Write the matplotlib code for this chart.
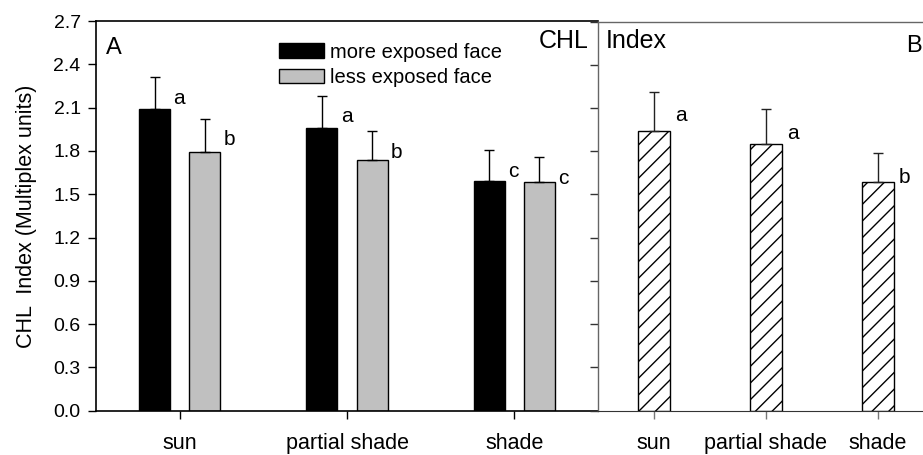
import matplotlib

matplotlib.use("Agg")
import matplotlib.pyplot as plt
import numpy as np

plt.rcParams["font.family"] = ["Liberation Sans", "DejaVu Sans"]
plt.rcParams["hatch.linewidth"] = 1.0

# panel A: two faces per light condition
conditions = ["sun", "partial shade", "shade"]
more_exposed = [2.09, 1.96, 1.59]
more_exposed_err = [0.22, 0.22, 0.215]
less_exposed = [1.79, 1.74, 1.585]
less_exposed_err = [0.23, 0.195, 0.17]
more_letters = ["a", "a", "c"]
less_letters = ["b", "b", "c"]

# panel B: whole fruit
whole = [1.94, 1.85, 1.585]
whole_err = [0.27, 0.24, 0.20]
whole_letters = ["a", "a", "b"]

yticks = [0.0, 0.3, 0.6, 0.9, 1.2, 1.5, 1.8, 2.1, 2.4, 2.7]

W, H = 923, 455
fig = plt.figure(figsize=(W / 100, H / 100), dpi=100)
ax = fig.add_axes([96 / W, 1 - 410.7 / H, 502 / W, 389.7 / H])
bx = fig.add_axes([598 / W, 1 - 410.7 / H, 336 / W, 389.2 / H])

x = np.arange(len(conditions))
bw, off = 0.185, 0.15
err_kw = dict(ecolor="black", elinewidth=1.0, capsize=3.6, capthick=1.0)
ax.bar(x - off, more_exposed, bw, color="black", edgecolor="black",
       linewidth=1.0, label="more exposed face")
ax.errorbar(x - off, more_exposed, yerr=[np.zeros(3), more_exposed_err],
            fmt="none", **err_kw)
ax.bar(x + off, less_exposed, bw, color="#c0c0c0", edgecolor="black",
       linewidth=1.0, label="less exposed face")
ax.errorbar(x + off, less_exposed, yerr=[np.zeros(3), less_exposed_err],
            fmt="none", **err_kw)

for xs, vals, errs, letters in ((x - off, more_exposed, more_exposed_err, more_letters),
                                (x + off, less_exposed, less_exposed_err, less_letters)):
    for xi, v, e, t in zip(xs, vals, errs, letters):
        ax.annotate(t, xy=(xi + bw / 2, v + e), xytext=(2.5, -15),
                    textcoords="offset points", ha="left", va="center",
                    fontsize=15)

ax.set_xlim(-0.5, 2.5)
ax.set_ylim(0, 2.7)
ax.set_yticks(yticks)
ax.set_yticklabels([f"{t:.1f}" for t in yticks], fontsize=14)
ax.set_xticks(x)
ax.set_xticklabels(conditions, fontsize=15.5)
ax.tick_params(axis="y", direction="out", length=6, width=1, pad=5)
ax.tick_params(axis="x", direction="out", length=6, width=1, pad=10)
ax.spines["right"].set_visible(False)
for s in ("left", "top", "bottom"):
    ax.spines[s].set_linewidth(1.2)
ax.set_ylabel("CHL  Index (Multiplex units)", fontsize=15.5, labelpad=12)
ax.text(0.02, 0.93, "A", transform=ax.transAxes, fontsize=17,
        ha="left", va="center")
ax.legend(loc="upper left", bbox_to_anchor=(0.348, 0.965), frameon=False,
          fontsize=14.5, handlelength=2.25, handleheight=0.75,
          handletextpad=0.3, labelspacing=0.32, borderaxespad=0)

xb = np.arange(len(conditions))
bwb = 0.277
bx.bar(xb, whole, bwb, color="white", edgecolor="black", hatch="//",
       linewidth=1.0)
bx.errorbar(xb, whole, yerr=[np.zeros(3), whole_err], fmt="none",
            ecolor="#222222", elinewidth=1.0, capsize=3.6, capthick=1.0)
for xi, v, e, t in zip(xb, whole, whole_err, whole_letters):
    bx.annotate(t, xy=(xi + bwb / 2, v + e), xytext=(4, -17),
                textcoords="offset points", ha="left", va="center",
                fontsize=15)
bx.set_xlim(-0.5, 2.5)
bx.set_ylim(0, 2.7)
bx.set_yticks(yticks)
bx.set_yticklabels([])
bx.set_xticks(xb)
bx.set_xticklabels(conditions, fontsize=15.5)
bx.tick_params(axis="y", direction="out", length=6, width=1, color="#333333")
bx.tick_params(axis="x", direction="out", length=6, width=1, pad=10,
               color="#777777")
for s in ("left", "top"):
    bx.spines[s].set_color("#666666")
    bx.spines[s].set_linewidth(1.0)
bx.spines["bottom"].set_color("#333333")
bx.spines["right"].set_visible(False)
bx.text(906 / W, 1 - 46 / H, "B", transform=fig.transFigure, fontsize=17,
        ha="left", va="center")

fig.text(589 / W, 1 - 41 / H, "CHL", fontsize=18, ha="right", va="center")
fig.text(606 / W, 1 - 41 / H, "Index", fontsize=18, ha="left", va="center")

fig.savefig("out.png", dpi=100)
